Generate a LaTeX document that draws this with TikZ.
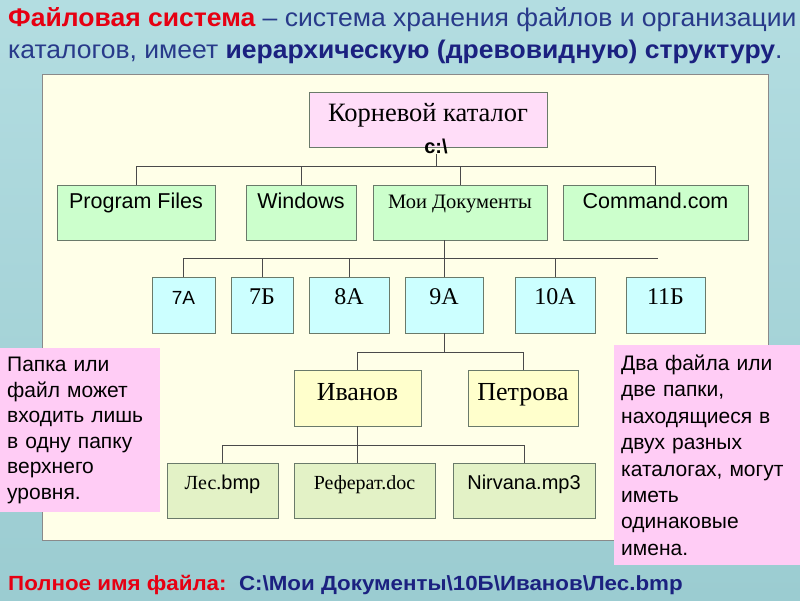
\documentclass[tikz,border=0pt]{standalone}
\usepackage{fontspec}
\setmainfont{Liberation Sans}
\newfontfamily\timesfont{Liberation Serif}
\newfontfamily\widefont[FakeStretch=1.04]{Liberation Sans}
\newfontfamily\footfont[FakeStretch=1.09]{Liberation Sans}
\definecolor{bgtop}{HTML}{B3DDE1}
\definecolor{bgbot}{HTML}{9BCCD1}
\definecolor{panelbg}{HTML}{FFFFE8}
\definecolor{panelline}{HTML}{8A8A8A}
\definecolor{boxline}{HTML}{6A7A6A}
\definecolor{linkgray}{HTML}{4A4A4A}
\definecolor{rootpink}{HTML}{FFDDF8}
\definecolor{notepink}{HTML}{FFCCF5}
\definecolor{dirgreen}{HTML}{CCFFCC}
\definecolor{classcyan}{HTML}{CCFFFF}
\definecolor{pupilyel}{HTML}{FFFFCC}
\definecolor{filegreen}{HTML}{E3F2C6}
\definecolor{headred}{HTML}{E60012}
\definecolor{headblue}{HTML}{283A8A}
\definecolor{headnavy}{HTML}{1B2180}

\begin{document}
\begin{tikzpicture}[
    x=1pt, y=-1pt,
    box/.style={draw=boxline, line width=0.9pt, inner xsep=2pt, inner ysep=0pt, align=center, text=black},
    rootbox/.style={box, fill=rootpink, minimum width=238pt, text height=29.5pt, text depth=25.5pt, font=\timesfont\fontsize{26.5}{30}\selectfont},
    dirbox/.style={box, fill=dirgreen, text height=23.5pt, text depth=31.5pt, font=\fontsize{21.5}{25}\selectfont},
    classbox/.style={box, fill=classcyan, text height=27pt, text depth=29pt, font=\timesfont\fontsize{24}{28}\selectfont},
    pupilbox/.style={box, fill=pupilyel, text height=30pt, text depth=26pt, font=\timesfont\fontsize{26}{30}\selectfont},
    filebox/.style={box, fill=filegreen, text height=26pt, text depth=29pt, font=\fontsize{20}{24}\selectfont},
    note/.style={fill=notepink, anchor=north west, inner xsep=7pt, inner ysep=0pt, align=left, text=black, font=\fontsize{21}{25.5}\selectfont},
    head/.style={anchor=base west, inner sep=0pt, text=headblue, font=\widefont\fontsize{25.5}{30}\selectfont},
    link/.style={draw=linkgray, line width=0.8pt}
]
\useasboundingbox (0,0) rectangle (800,600);
\fill[top color=bgtop, bottom color=bgbot] (0,0) rectangle (800,600);

% heading
\node[head] (head1) at (8,26) {{\bfseries\color{headred}Файловая система} – система хранения файлов и организации};
\node[head] (head2) at (8,58) {каталогов, имеет {\bfseries\color{headnavy}иерархическую (древовидную) структуру}.};

% tree panel
\draw[draw=panelline, fill=panelbg, line width=0.9pt] (42,74) rectangle (768,540);

\node[rootbox, label={[name=rootpath, xshift=8pt, label distance=-9pt, inner sep=0pt, font=\bfseries\fontsize{20}{24}\selectfont]below:c:\textbackslash}] (root) at (428,119.5) {Корневой каталог};

\node[dirbox, minimum width=158pt] (progfiles) at (136,212.5) {Program Files};
\node[dirbox, minimum width=110pt] (windows) at (301,212.5) {Windows};
\node[dirbox, minimum width=174pt, font=\timesfont\fontsize{20.5}{25}\selectfont] (mydocs) at (460,212.5) {Мои Документы};
\node[dirbox, minimum width=185pt] (cmdcom) at (655.5,212.5) {Command.com};

\node[classbox, minimum width=63pt, font=\fontsize{19}{23}\selectfont] (sevenA) at (183.5,305) {7А};
\node[classbox, minimum width=62pt] (sevenB) at (262,305) {7Б};
\node[classbox, minimum width=80pt] (eightA) at (349,305) {8А};
\node[classbox, minimum width=78pt] (nineA) at (444,305) {9А};
\node[classbox, minimum width=80pt] (tenA) at (555,305) {10А};
\node[classbox, minimum width=79pt] (elevenB) at (665.5,305) {11Б};

\node[pupilbox, minimum width=127pt] (ivanov) at (357.5,398) {Иванов};
\node[pupilbox, minimum width=110pt] (petrova) at (523,398) {Петрова};

\node[filebox, minimum width=111pt] (les) at (222.5,490.5) {{\timesfont Лес.}bmp};
\node[filebox, minimum width=141pt, font=\timesfont\fontsize{20}{24}\selectfont] (referat) at (364.5,490.5) {Реферат.doc};
\node[filebox, minimum width=142pt] (nirvana) at (524,490.5) {Nirvana.mp3};

% connectors
\coordinate (bus1) at (0,166);
\coordinate (bus2) at (0,258);
\coordinate (bus3) at (0,352);
\coordinate (bus4) at (0,445);
\coordinate (busend) at (658,258);

\draw[link] (rootpath.south) -- (rootpath.south |- bus1);
\draw[link] (progfiles.north) |- (cmdcom.north |- bus1) -- (cmdcom.north);
\foreach \n in {windows,mydocs} \draw[link] (\n.north) -- (\n.north |- bus1);

\draw[link] (mydocs.south -| nineA.north) -- (nineA.north);
\draw[link] (sevenA.north) |- (busend);
\foreach \n in {sevenB,eightA,tenA} \draw[link] (\n.north) -- (\n.north |- bus2);

\draw[link] (nineA.south) -- (nineA.south |- bus3);
\draw[link] (ivanov.north) |- (petrova.north |- bus3) -- (petrova.north);

\draw[link] (ivanov.south) -- (ivanov.south |- referat.north);
\draw[link] (les.north) |- (nirvana.north |- bus4) -- (nirvana.north);

% side notes
\node[note, text width=146pt, minimum height=164pt] (leftnote) at (0,348) {Папка или\\файл может\\входить лишь\\в одну папку\\верхнего\\уровня.};
\node[note, text width=180pt, minimum height=220pt, font=\fontsize{21}{26.4}\selectfont] (rightnote) at (614,345) {Два файла или\\две папки,\\находящиеся в\\двух разных\\каталогах, могут\\иметь\\одинаковые\\имена.};

% full path
\node[head, font=\footfont\bfseries\fontsize{20.5}{24}\selectfont] (fullname) at (8,590) {{\color{headred}Полное имя файла:}\ \ {\color{headnavy}C:\textbackslash Мои Документы\textbackslash 10Б\textbackslash Иванов\textbackslash Лес.bmp}};
\end{tikzpicture}
\end{document}
